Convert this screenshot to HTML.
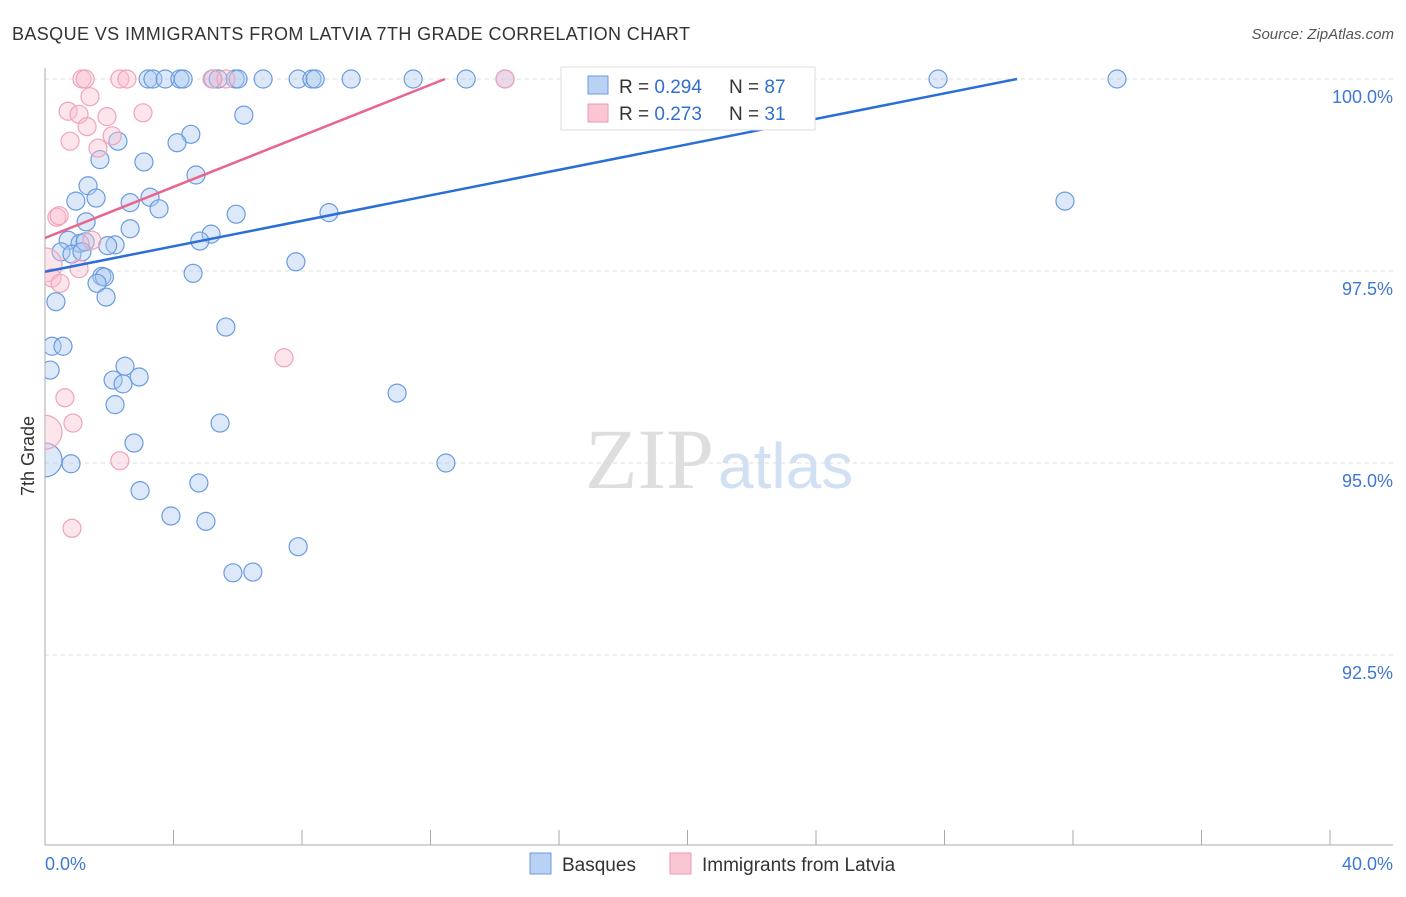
<!DOCTYPE html>
<html><head><meta charset="utf-8"><style>
body{margin:0;background:#fff;font-family:"Liberation Sans",sans-serif}
svg text{font-family:"Liberation Sans",sans-serif}
</style></head><body>
<svg id="chart" width="1406" height="892" xmlns="http://www.w3.org/2000/svg">
<defs><clipPath id="plotclip"><rect x="45" y="40" width="1360" height="806"/></clipPath></defs>
<text x="12" y="40" font-size="18" fill="#333" textLength="678">BASQUE VS IMMIGRANTS FROM LATVIA 7TH GRADE CORRELATION CHART</text>
<text x="1394" y="39" font-size="15" fill="#555" text-anchor="end" font-style="italic">Source: ZipAtlas.com</text>
<text x="714" y="488" font-size="86" fill="#dedede" text-anchor="end" style="font-family:'Liberation Serif',serif">ZIP</text>
<text x="718" y="488" font-size="64" fill="#d2e0f3">atlas</text>
<g id="grid"></g>
<g id="axes"></g>
<g id="marks" clip-path="url(#plotclip)"></g>
<text transform="translate(34,456) rotate(-90)" font-size="18" fill="#333" text-anchor="middle">7th Grade</text>
<g>
<rect x="561" y="67" width="254" height="63" fill="#fff" stroke="#ddd"/>
<rect x="588" y="76" width="20" height="18" fill="#b9d1f3" stroke="#6a9be0"/>
<rect x="588" y="104" width="20" height="18" fill="#fbc6d4" stroke="#ee99b2"/>
<text x="619" y="93" font-size="19" fill="#333">R = <tspan fill="#2f6fd0">0.294</tspan></text>
<text x="729" y="93" font-size="19" fill="#333">N = <tspan fill="#2f6fd0">87</tspan></text>
<text x="619" y="120" font-size="19" fill="#333">R = <tspan fill="#2f6fd0">0.273</tspan></text>
<text x="729" y="120" font-size="19" fill="#333">N = <tspan fill="#2f6fd0"> 31</tspan></text>
</g>
<g>
<rect x="530" y="853" width="21" height="21" fill="#b9d1f3" stroke="#6a9be0"/>
<text x="562" y="871" font-size="19" fill="#333">Basques</text>
<rect x="670" y="853" width="21" height="21" fill="#fbc6d4" stroke="#ee99b2"/>
<text x="702" y="871" font-size="19" fill="#333">Immigrants from Latvia</text>
</g>
</svg>
<script>
const yTicks=[100,97.5,95,92.5];
const yTickLabels=["100.0%","97.5%","95.0%","92.5%"];
const xTickLabels=["0.0%","40.0%"];
const basqueX=[3.21,3.36,3.74,4.20,4.30,5.23,5.39,5.92,6.01,6.79,7.88,8.31,8.41,9.53,11.46,13.11,14.32,20.76,27.80,33.37,
6.19,4.54,2.27,1.71,3.08,4.11,4.70,1.34,0.96,1.59,2.65,3.27,3.55,5.95,8.84,1.28,2.65,5.17,4.82,0.72,1.09,1.25,2.18,1.95,0.50,0.84,1.15,7.81,1.77,1.85,4.61,1.62,1.90,0.34,5.63,0.22,0.56,0.16,2.49,2.12,2.43,2.93,2.18,10.96,5.45,2.77,0,0.81,12.48,2.96,4.79,3.92,5.01,7.88,5.85,6.47,31.75];
const basqueY=[100,100,100,100,100,100,100,100,100,100,100,100,100,100,100,100,100,100,100,100,
99.53,99.28,99.19,98.95,98.92,99.17,98.75,98.61,98.41,98.45,98.39,98.46,98.31,98.24,98.26,98.14,98.05,97.98,97.89,97.90,97.86,97.88,97.84,97.83,97.75,97.72,97.75,97.62,97.43,97.42,97.47,97.34,97.16,97.10,96.77,96.52,96.52,96.21,96.26,96.08,96.03,96.12,95.76,95.91,95.52,95.26,95.04,94.99,95.00,94.64,94.74,94.31,94.24,93.91,93.57,93.58,98.41];
const basqueR=basqueX.map((v,i)=>i===66?17:9);
const latviaX=[1.15,1.25,2.33,2.55,5.20,5.63,14.32,0.72,1.40,1.06,1.93,3.05,0.78,1.31,2.09,1.65,0.37,0.44,1.46,1.06,0,0.22,0.47,7.44,0.62,0.87,0,2.33,0.84];
const latviaY=[100,100,100,100,100,100,100,99.58,99.77,99.54,99.51,99.56,99.19,99.38,99.26,99.10,98.20,98.22,97.90,97.53,97.58,97.41,97.34,96.37,95.85,95.52,95.40,95.03,94.15];
const latviaR=latviaX.map((v,i)=>(i===20||i===26)?17:9);
const basqueTrendX=[0,30.26], basqueTrendY=[97.49,100];
const latviaTrendX=[0,12.45], latviaTrendY=[97.93,100];
const X=v=>45+v*32.125, Y=v=>79+(100-v)*76.8;
const NS="http://www.w3.org/2000/svg";
function mk(tag,attrs,parent){const e=document.createElementNS(NS,tag);for(const k in attrs)e.setAttribute(k,attrs[k]);document.getElementById(parent).appendChild(e);return e;}
yTicks.forEach((t,i)=>{
 const l=mk('line',{x1:45,x2:1393,y1:Y(t),y2:Y(t),stroke:'#ddd','stroke-dasharray':'4,4'},'grid');
 
 
 const tx=mk('text',{x:1393,y:Y(t)+24,'font-size':18,fill:'#3f78d4','text-anchor':'end'},'axes');
 tx.textContent=yTickLabels[i];
 
 
});
let a=mk('line',{x1:45,x2:45,y1:68,y2:845,stroke:'#aaa'},'axes');


a=mk('line',{x1:45,x2:1393,y1:845,y2:845,stroke:'#aaa'},'axes');


for(let i=0;i<=10;i++){const t=mk('line',{x1:X(i*4),x2:X(i*4),y1:830,y2:845,stroke:'#aaa'},'axes');
 
 }
[[0,'start',45],[40,'end',1393]].forEach((d,i)=>{const t=mk('text',{x:d[2],y:870,'font-size':18,fill:'#3f78d4','text-anchor':d[1]},'axes');t.textContent=xTickLabels[i];
 
 });
basqueX.forEach((v,i)=>{const c=mk('circle',{cx:X(v),cy:Y(basqueY[i]),r:basqueR[i],fill:'rgba(170,200,240,0.4)',stroke:'#6a9be0','stroke-width':1.2},'marks');
 
 });
latviaX.forEach((v,i)=>{const c=mk('circle',{cx:X(v),cy:Y(latviaY[i]),r:latviaR[i],fill:'rgba(250,190,208,0.4)',stroke:'#f0a3b9','stroke-width':1.2},'marks');
 
 });
let tl=mk('line',{x1:X(basqueTrendX[0]),y1:Y(basqueTrendY[0]),x2:X(basqueTrendX[1]),y2:Y(basqueTrendY[1]),stroke:'#2a6fd6','stroke-width':2.5},'marks');


tl=mk('line',{x1:X(latviaTrendX[0]),y1:Y(latviaTrendY[0]),x2:X(latviaTrendX[1]),y2:Y(latviaTrendY[1]),stroke:'#e8668e','stroke-width':2.5},'marks');


</script>
</body></html>
